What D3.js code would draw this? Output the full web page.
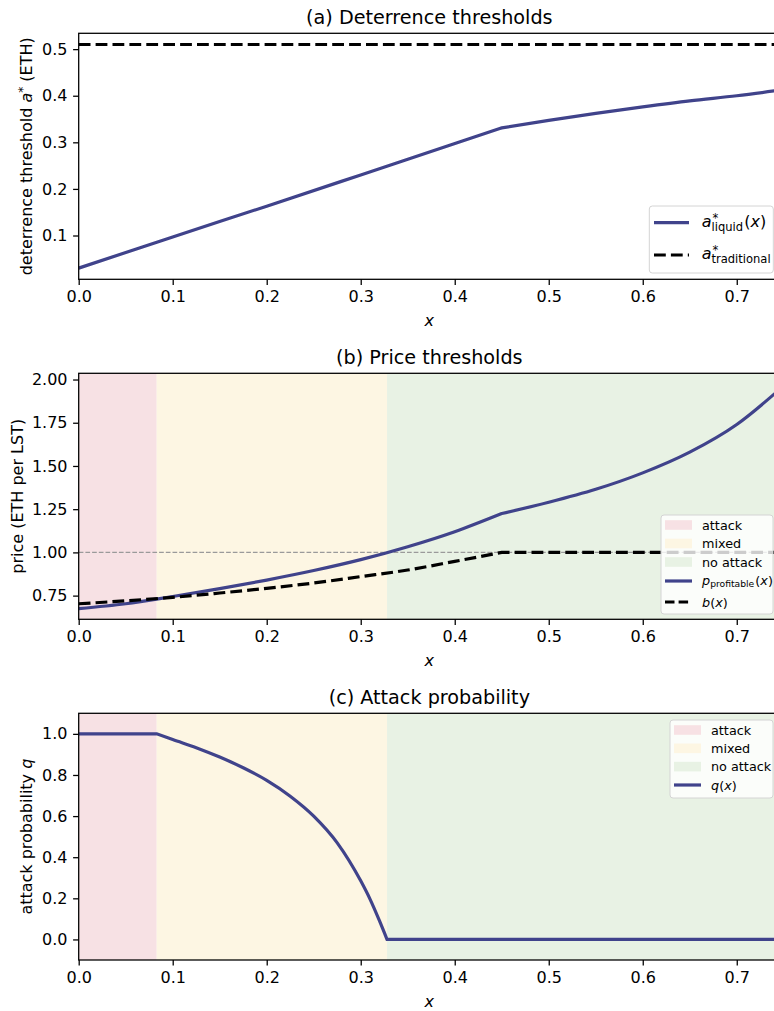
<!DOCTYPE html>
<html>
<head>
<meta charset="utf-8">
<script src="https://cdn.jsdelivr.net/npm/d3@7"></script>
<style>
  body { margin: 0; background: #fff; }
  svg { display: block; font-family: "DejaVu Sans", sans-serif; }
</style>
</head>
<body>
<svg id="fig" width="774" height="1011"></svg>
<script>
// ---- data ----
const xTicks = [0, 0.1, 0.2, 0.3, 0.4, 0.5, 0.6, 0.7];
const yTicksA = [0.1, 0.2, 0.3, 0.4, 0.5];
const yTicksB = [0.75, 1.0, 1.25, 1.5, 1.75, 2.0];
const yTicksC = [0, 0.2, 0.4, 0.6, 0.8, 1.0];

// (a) deterrence thresholds
const xLiquid = [0, 0.1, 0.2, 0.3, 0.45, 0.5, 0.55, 0.6, 0.65, 0.7, 0.746];
const aLiquid = [0.030, 0.097, 0.163, 0.230, 0.331, 0.347, 0.362, 0.376, 0.389, 0.400, 0.412];
const aTraditional = 0.51;
const liquidKinks = [0.45];

// (b) price thresholds
const xPrice = [0, 0.05, 0.1, 0.15, 0.2, 0.25, 0.3, 0.35, 0.4, 0.45, 0.5, 0.55, 0.6, 0.65, 0.7, 0.746];
const pProfitable = [0.675, 0.703, 0.745, 0.79, 0.84, 0.895, 0.958, 1.033, 1.12, 1.225, 1.29, 1.365, 1.46, 1.58, 1.74, 1.945];
const bPrice = [0.703, 0.72, 0.74, 0.765, 0.792, 0.823, 0.86, 0.898, 0.948, 1.0, 1.0, 1.0, 1.0, 1.0, 1.0, 1.0];
const priceKinks = [0.45];
const parLine = 1.0;

// (c) attack probability
const xQ = [0, 0.083, 0.1, 0.125, 0.15, 0.175, 0.2, 0.225, 0.25, 0.275, 0.3, 0.31, 0.32, 0.328, 0.746];
const qAttack = [1, 1, 0.972, 0.933, 0.887, 0.835, 0.774, 0.697, 0.60, 0.47, 0.285, 0.195, 0.09, 0, 0];
const qKinks = [0.083, 0.328];

// regimes
const regionLabels = ["attack", "mixed", "no attack"];
const regionEdges = [0, 0.083, 0.328, 0.746];

// ---- styles ----
const blue = "#40438b";
const regionColors = ["#f7e1e4", "#fdf6e3", "#e8f2e4"];
const dash = "11.8,5.1";

const svg = d3.select("#fig");
svg.append("rect").attr("width", 774).attr("height", 1011).attr("fill", "#fff");

const x = d3.scaleLinear().domain([0, 0.746]).range([78.7, 780]);
const line = d3.line().x(d => x(d[0])).curve(d3.curveMonotoneX);

// split a series at kink x-values so the smooth curve keeps its corners
function pathWithKinks(xs, ys, kinks, y) {
  const pts = xs.map((v, i) => [v, ys[i]]);
  const pieces = [];
  let cur = [];
  pts.forEach(p => {
    cur.push(p);
    if (kinks.some(k => Math.abs(k - p[0]) < 1e-9)) {
      pieces.push(cur);
      cur = [p];
    }
  });
  if (cur.length > 1) pieces.push(cur);
  line.y(d => y(d[1]));
  return pieces.map((p, i) => i ? line(p).replace(/^M/, "L") : line(p)).join("");
}

// little mathtext-like label: italic base, optional sup/sub, then tail pieces
function mathLabel(g, x0, y0, size, spec) {
  const t = (xx, yy, s, txt, it) => g.append("text")
    .attr("x", xx).attr("y", yy)
    .attr("font-size", s)
    .attr("font-style", it ? "italic" : "normal")
    .text(txt);
  const b = t(x0, y0, size, spec.base, true);
  let cx = x0 + b.node().getComputedTextLength();
  let w = 0;
  if (spec.sup) w = Math.max(w, t(cx + 1, y0 - 0.3 * size, 0.72 * size, spec.sup).node().getComputedTextLength() + 1);
  if (spec.sub) w = Math.max(w, t(cx, y0 + (spec.sup ? 0.3 : 0.2) * size, 0.72 * size, spec.sub).node().getComputedTextLength());
  cx += w + (w ? 0.08 * size : 0);
  (spec.tail || []).forEach(([txt, it]) => {
    cx += t(cx, y0, size, txt, it).node().getComputedTextLength();
  });
}

function drawPanel(p) {
  const g = svg.append("g");
  const y = d3.scaleLinear().domain(p.domain).range([p.bottom, p.top]);
  const w = x.range()[1] - x.range()[0];

  const clipId = "clip-" + p.key;
  svg.append("clipPath").attr("id", clipId)
    .append("rect")
    .attr("x", x.range()[0]).attr("y", p.top)
    .attr("width", w).attr("height", p.bottom - p.top);
  const plot = g.append("g").attr("clip-path", `url(#${clipId})`);

  // x axis
  const xa = g.append("g")
    .attr("transform", `translate(0,${p.bottom})`)
    .call(d3.axisBottom(x).tickValues(xTicks).tickFormat(d3.format(".1f"))
      .tickSize(5.6).tickPadding(5.6).tickSizeOuter(0));
  // y axis
  const ya = g.append("g")
    .attr("transform", `translate(${x.range()[0]},0)`)
    .call(d3.axisLeft(y).tickValues(p.ticks).tickFormat(d3.format(p.fmt))
      .tickSize(5.6).tickPadding(5.6).tickSizeOuter(0));
  [xa, ya].forEach(a => {
    a.attr("font-family", null).attr("font-size", 16);
    a.select(".domain").remove();
    a.selectAll(".tick line").attr("stroke-width", 1.28);
  });

  // title and x label
  g.append("text")
    .attr("x", (x.range()[0] + x.range()[1]) / 2)
    .attr("y", p.top - 9.6)
    .attr("text-anchor", "middle")
    .attr("font-size", 19.2)
    .text(p.title);
  g.append("text")
    .attr("x", (x.range()[0] + x.range()[1]) / 2)
    .attr("y", p.bottom + 46.5)
    .attr("text-anchor", "middle")
    .attr("font-size", 16)
    .attr("font-style", "italic")
    .text("x");

  // y label
  const yl = g.append("text")
    .attr("transform", `translate(${p.ylabelX},${(p.top + p.bottom) / 2}) rotate(-90)`)
    .attr("text-anchor", "middle")
    .attr("font-size", 16);
  p.ylabel.forEach(s => {
    const ts = yl.append("tspan").text(s.t);
    if (s.it) ts.attr("font-style", "italic");
    if (s.size) ts.attr("font-size", s.size);
    if (s.dy) ts.attr("dy", s.dy);
  });

  return { g, plot, y };
}

function drawSpines(g, p) {
  g.append("rect")
    .attr("x", x.range()[0]).attr("y", p.top)
    .attr("width", x.range()[1] - x.range()[0])
    .attr("height", p.bottom - p.top)
    .attr("fill", "none")
    .attr("stroke", "#000")
    .attr("stroke-width", 1.28);
}

function drawRegions(plot, p) {
  regionLabels.forEach((lab, i) => {
    plot.append("rect")
      .attr("x", x(regionEdges[i]))
      .attr("y", p.top)
      .attr("width", x(regionEdges[i + 1]) - x(regionEdges[i]))
      .attr("height", p.bottom - p.top)
      .attr("fill", regionColors[i]);
  });
}

function legendBox(g, bx, by, bw, bh) {
  g.append("rect")
    .attr("x", bx).attr("y", by).attr("width", bw).attr("height", bh)
    .attr("rx", 3)
    .attr("fill", "#fff").attr("fill-opacity", 0.8)
    .attr("stroke", "#d4d4d4").attr("stroke-width", 1);
}

// ---- panel (a) ----
const pa = {
  key: "a", title: "(a) Deterrence thresholds",
  top: 33.3, bottom: 279.3, domain: [0.006, 0.534], ticks: yTicksA, fmt: ".1f",
  ylabelX: 32,
  ylabel: [{ t: "deterrence threshold " }, { t: "a", it: true }, { t: "*", size: 12, dy: -5 }, { t: " (ETH)", dy: 5 }]
};
const A = drawPanel(pa);
A.plot.append("path")
  .attr("d", pathWithKinks(xLiquid, aLiquid, liquidKinks, A.y))
  .attr("fill", "none").attr("stroke", blue).attr("stroke-width", 3.2);
A.plot.append("line")
  .attr("x1", x(0)).attr("x2", x(0.746))
  .attr("y1", A.y(aTraditional)).attr("y2", A.y(aTraditional))
  .attr("stroke", "#000").attr("stroke-width", 3.2).attr("stroke-dasharray", dash);
drawSpines(A.g, pa);

// legend (a)
const la = svg.append("g");
legendBox(la, 649.3, 206, 124, 67);
la.append("line").attr("x1", 654).attr("x2", 689).attr("y1", 222.7).attr("y2", 222.7)
  .attr("stroke", blue).attr("stroke-width", 3.2);
la.append("line").attr("x1", 654).attr("x2", 689).attr("y1", 255).attr("y2", 255)
  .attr("stroke", "#000").attr("stroke-width", 3.2).attr("stroke-dasharray", dash);
mathLabel(la, 701.7, 226.5, 16, { base: "a", sup: "*", sub: "liquid", tail: [["(", false], ["x", true], [")", false]] });
mathLabel(la, 701.7, 258.5, 16, { base: "a", sup: "*", sub: "traditional" });

// ---- panel (b) ----
const pb = {
  key: "b", title: "(b) Price thresholds",
  top: 373.3, bottom: 619.3, domain: [0.613, 2.036], ticks: yTicksB, fmt: ".2f",
  ylabelX: 23,
  ylabel: [{ t: "price (ETH per LST)" }]
};
const B = drawPanel(pb);
drawRegions(B.plot, pb);
B.plot.append("line")
  .attr("x1", x(0)).attr("x2", x(0.746))
  .attr("y1", B.y(parLine)).attr("y2", B.y(parLine))
  .attr("stroke", "#9a9a9a").attr("stroke-width", 1.2).attr("stroke-dasharray", "4.7,2");
B.plot.append("path")
  .attr("d", pathWithKinks(xPrice, pProfitable, priceKinks, B.y))
  .attr("fill", "none").attr("stroke", blue).attr("stroke-width", 3.2);
B.plot.append("path")
  .attr("d", pathWithKinks(xPrice, bPrice, priceKinks, B.y))
  .attr("fill", "none").attr("stroke", "#000").attr("stroke-width", 3.2).attr("stroke-dasharray", dash);
drawSpines(B.g, pb);

// legend (b)
const lb = svg.append("g").attr("font-size", 12.8);
legendBox(lb, 661, 515, 112, 99);
const rowsB = [525, 543.5, 562, 581, 602];
regionLabels.forEach((lab, i) => {
  lb.append("rect").attr("x", 665).attr("y", rowsB[i] - 4.8).attr("width", 27).attr("height", 9.6)
    .attr("fill", regionColors[i]);
  lb.append("text").attr("x", 702).attr("y", rowsB[i] + 4.5).text(lab);
});
lb.append("line").attr("x1", 665).attr("x2", 692).attr("y1", rowsB[3]).attr("y2", rowsB[3])
  .attr("stroke", blue).attr("stroke-width", 3.2);
lb.append("line").attr("x1", 665).attr("x2", 692).attr("y1", rowsB[4]).attr("y2", rowsB[4])
  .attr("stroke", "#000").attr("stroke-width", 3.2).attr("stroke-dasharray", "9.5,4.1");
mathLabel(lb, 702, rowsB[3] + 3.5, 12.8, { base: "p", sub: "profitable", tail: [["(", false], ["x", true], [")", false]] });
mathLabel(lb, 702, rowsB[4] + 4.5, 12.8, { base: "b", tail: [["(", false], ["x", true], [")", false]] });

// ---- panel (c) ----
const pc = {
  key: "c", title: "(c) Attack probability",
  top: 713.3, bottom: 960, domain: [-0.1, 1.1], ticks: yTicksC, fmt: ".1f",
  ylabelX: 32,
  ylabel: [{ t: "attack probability " }, { t: "q", it: true }]
};
const C = drawPanel(pc);
drawRegions(C.plot, pc);
C.plot.append("path")
  .attr("d", pathWithKinks(xQ, qAttack, qKinks, C.y))
  .attr("fill", "none").attr("stroke", blue).attr("stroke-width", 3.2);
drawSpines(C.g, pc);

// legend (c)
const lc = svg.append("g").attr("font-size", 12.8);
legendBox(lc, 670, 720, 103, 78);
const rowsC = [730, 748.3, 766.6, 785];
regionLabels.forEach((lab, i) => {
  lc.append("rect").attr("x", 674).attr("y", rowsC[i] - 4.8).attr("width", 27).attr("height", 9.6)
    .attr("fill", regionColors[i]);
  lc.append("text").attr("x", 711).attr("y", rowsC[i] + 4.5).text(lab);
});
lc.append("line").attr("x1", 674).attr("x2", 701).attr("y1", rowsC[3]).attr("y2", rowsC[3])
  .attr("stroke", blue).attr("stroke-width", 3.2);
mathLabel(lc, 711, rowsC[3] + 4.5, 12.8, { base: "q", tail: [["(", false], ["x", true], [")", false]] });
</script>
</body>
</html>
